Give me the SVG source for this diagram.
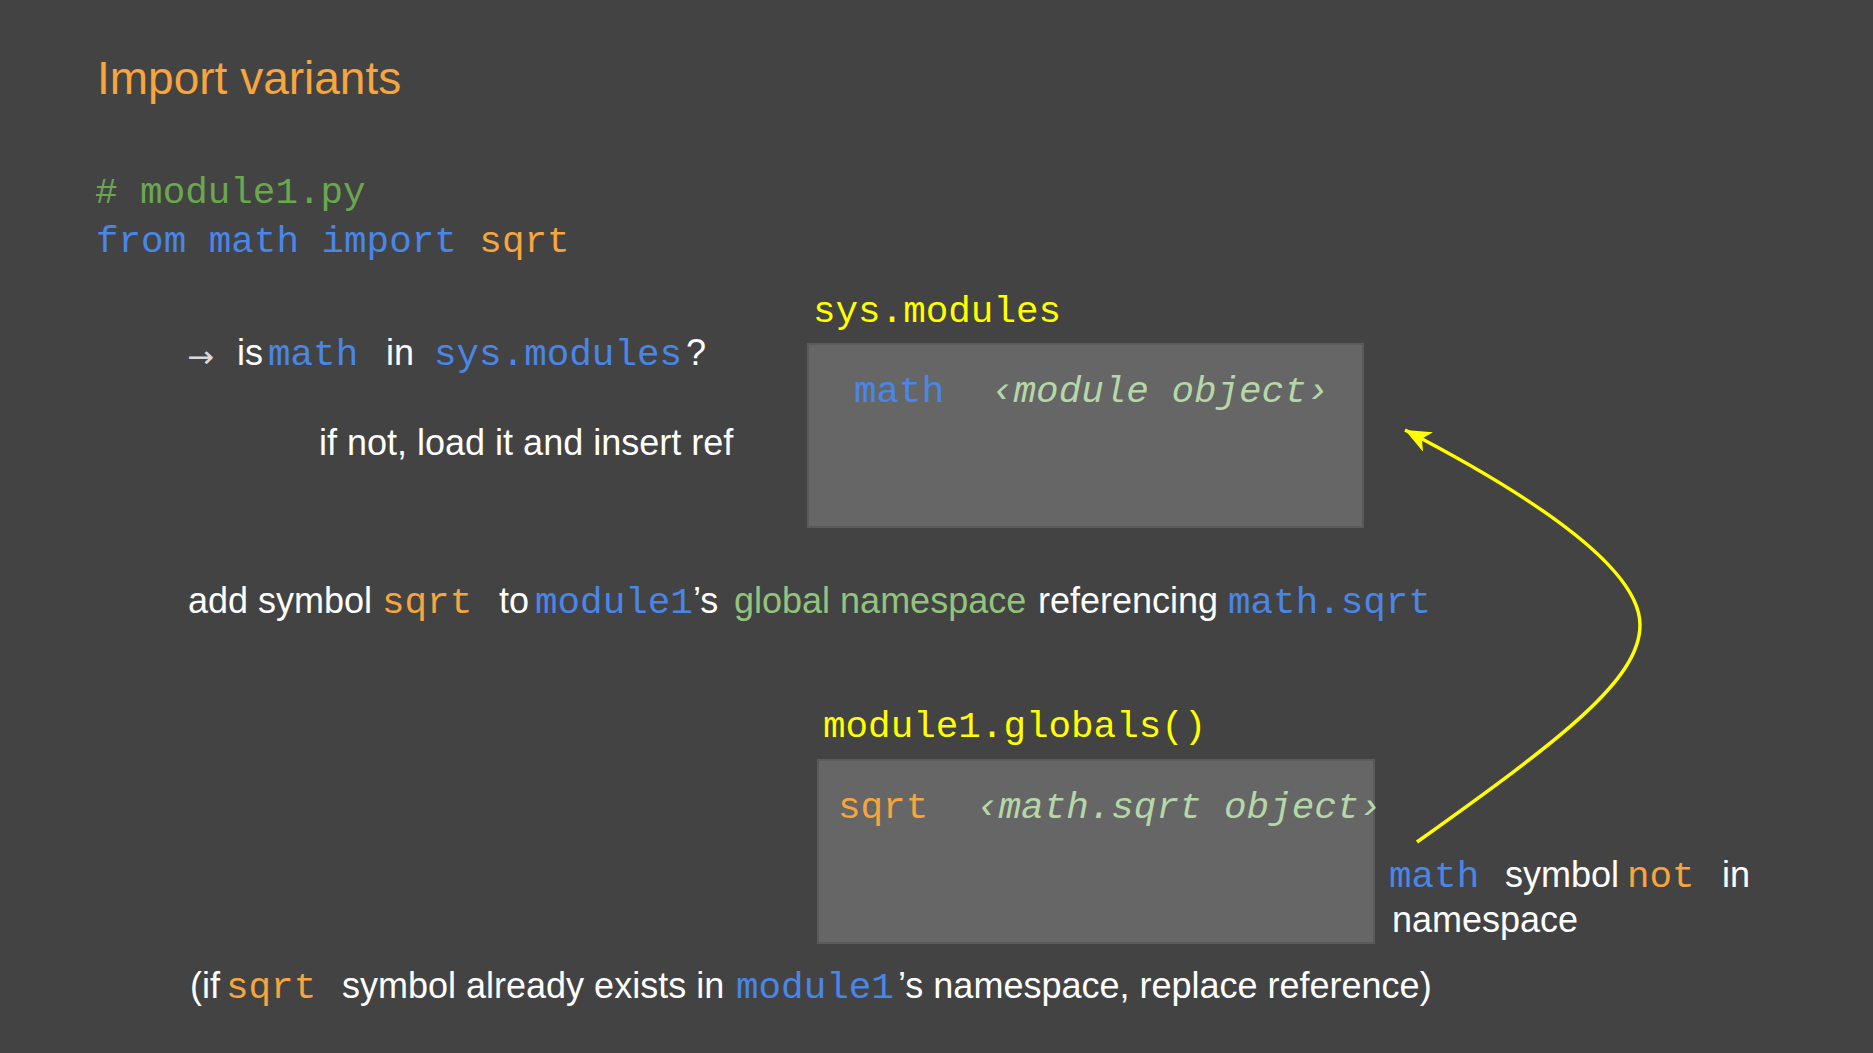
<svg xmlns="http://www.w3.org/2000/svg" width="1873" height="1053" viewBox="0 0 1873 1053">
<style>
.sans{font-family:"Liberation Sans",Arial,sans-serif;font-size:36px;fill:#ffffff}
.mono{font-family:"Liberation Mono","Cousine",monospace;font-size:37.6px}
.title{font-family:"Liberation Sans",Arial,sans-serif;font-size:46px;fill:#f6a53f}
.blue{fill:#4a86e8}
.orange{fill:#f6a53f}
.yellow{fill:#ffff00}
.cgreen{fill:#6aa84f}
.green{fill:#93c47d}
.lgreen{fill:#b6d7a8;font-style:italic}
.white{fill:#ffffff}
.box{fill:#666666;stroke:#5a5a5a;stroke-width:2}
</style>
<defs>
<marker id="ah" viewBox="0 0 26 22" refX="26" refY="11" markerWidth="26" markerHeight="22" orient="auto" markerUnits="userSpaceOnUse">
<path d="M0,0 L26,11 L0,22 L7,11 z" fill="#ffff00"/>
</marker>
</defs>
<rect x="0" y="0" width="1873" height="1053" fill="#434343"/>

<g id="title">
<text class="title" x="97" y="94">Import variants</text>
</g>

<g id="code">
<text class="mono cgreen" x="95" y="203"># module1.py</text>
<text class="mono" x="96" y="252"><tspan class="blue">from math import </tspan><tspan class="orange">sqrt</tspan></text>
</g>

<g id="check-line">
<text x="187" y="367" style="font-family:'DejaVu Sans',sans-serif;font-size:30px;fill:#d9d9d9" textLength="27" lengthAdjust="spacingAndGlyphs">→</text>
<text class="sans" x="237" y="365">is</text>
<text class="mono blue" x="268" y="365">math</text>
<text class="sans" x="386" y="365">in</text>
<text class="mono blue" x="434" y="365">sys.modules</text>
<text class="sans" x="686" y="365">?</text>
<text class="sans" x="319" y="455">if not, load it and insert ref</text>
</g>

<g id="sys-modules">
<text class="mono yellow" x="813" y="322">sys.modules</text>
<rect class="box" x="808" y="344" width="555" height="183"/>
<text class="mono blue" x="854" y="402">math</text>
<text class="mono lgreen" x="991" y="402">‹module object›</text>
</g>

<g id="add-line">
<text class="sans" x="188" y="613">add symbol</text>
<text class="mono orange" x="382" y="613">sqrt</text>
<text class="sans" x="499" y="613">to</text>
<text class="mono blue" x="535" y="613">module1</text>
<text class="sans" x="693" y="613">’s</text>
<text class="sans green" x="734" y="613">global namespace</text>
<text class="sans" x="1038" y="613">referencing</text>
<text class="mono blue" x="1228" y="613">math.sqrt</text>
</g>

<g id="globals">
<text class="mono yellow" x="823" y="737">module1.globals()</text>
<rect class="box" x="818" y="760" width="556" height="183"/>
<text class="mono orange" x="838" y="818">sqrt</text>
<text class="mono lgreen" x="976" y="818">‹math.sqrt object›</text>
</g>

<g id="note">
<text class="mono blue" x="1389" y="887">math</text>
<text class="sans" x="1505" y="887">symbol</text>
<text class="mono orange" x="1627" y="887">not</text>
<text class="sans" x="1722" y="887">in</text>
<text class="sans" x="1392" y="932">namespace</text>
</g>

<g id="bottom-line">
<text class="sans" x="190" y="998">(if</text>
<text class="mono orange" x="226" y="998">sqrt</text>
<text class="sans" x="342" y="998">symbol already exists in</text>
<text class="mono blue" x="736" y="998">module1</text>
<text class="sans" x="898" y="998">’s namespace, replace reference)</text>
</g>

<g id="connectors">
<path d="M1417,842 C1560,740 1640,680 1640,625 C1640,570 1540,500 1405,430" fill="none" stroke="#ffff00" stroke-width="3.5" marker-end="url(#ah)"/>
</g>
</svg>
